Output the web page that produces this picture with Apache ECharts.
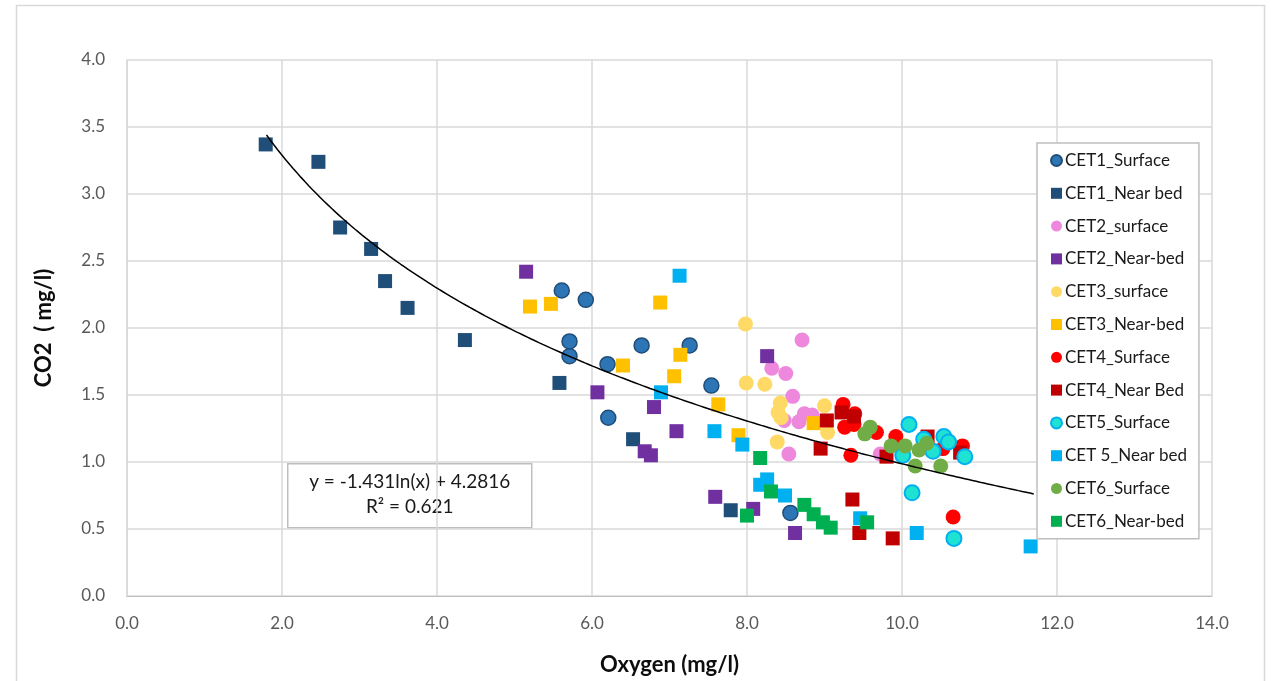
<!DOCTYPE html>
<html>
<head>
<meta charset="utf-8">
<script src="https://cdn.jsdelivr.net/npm/echarts@6/dist/echarts.min.js"></script>
<style>
  html, body { margin: 0; padding: 0; background: #fff; }
  #chart { width: 1271px; height: 681px; }
</style>
</head>
<body>
<div id="chart"></div>
<script>
// Oxygen (mg/l) vs CO2 (mg/l) per station and depth, as [O2, CO2] pairs
const cet1Surface = [[5.61,2.28],[5.92,2.21],[5.71,1.90],[5.71,1.79],[6.20,1.73],[6.64,1.87],[7.26,1.87],[7.54,1.57],[6.21,1.33],[8.56,0.62]];
const cet1NearBed = [[1.79,3.37],[2.47,3.24],[2.75,2.75],[3.15,2.59],[3.33,2.35],[3.62,2.15],[4.36,1.91],[5.58,1.59],[6.53,1.17],[7.79,0.64]];
const cet2Surface = [[8.71,1.91],[8.32,1.70],[8.50,1.66],[8.59,1.49],[8.48,1.31],[8.67,1.30],[8.74,1.36],[8.84,1.35],[8.54,1.06],[9.72,1.06]];
const cet2NearBed = [[5.15,2.42],[6.07,1.52],[6.80,1.41],[7.09,1.23],[6.68,1.08],[6.76,1.05],[7.59,0.74],[8.26,1.79],[8.08,0.65],[8.62,0.47]];
const cet3Surface = [[7.98,2.03],[7.99,1.59],[8.23,1.58],[8.43,1.44],[8.40,1.37],[8.44,1.33],[9.00,1.42],[9.04,1.22],[8.39,1.15]];
const cet3NearBed = [[5.20,2.16],[5.47,2.18],[6.88,2.19],[6.40,1.72],[7.14,1.80],[7.06,1.64],[7.63,1.43],[7.89,1.20],[8.86,1.29]];
const cet4Surface = [[9.24,1.43],[9.39,1.36],[9.26,1.26],[9.38,1.28],[9.67,1.22],[9.92,1.19],[9.34,1.05],[10.53,1.10],[10.78,1.12],[10.66,0.59]];
const cet4NearBed = [[9.03,1.31],[9.22,1.37],[9.38,1.34],[8.95,1.10],[9.80,1.04],[10.33,1.19],[10.75,1.07],[9.36,0.72],[9.45,0.47],[9.88,0.43]];
const cet5Surface = [[10.09,1.28],[10.54,1.19],[10.60,1.15],[10.28,1.17],[10.40,1.08],[10.01,1.05],[10.81,1.04],[10.13,0.77],[10.67,0.43]];
const cet5NearBed = [[7.13,2.39],[6.89,1.52],[7.58,1.23],[7.94,1.13],[8.17,0.83],[8.26,0.87],[8.49,0.75],[9.46,0.58],[10.19,0.47],[11.66,0.37]];
const cet6Surface = [[9.59,1.26],[9.52,1.21],[9.86,1.12],[10.04,1.12],[10.17,0.97],[10.22,1.09],[10.32,1.14],[10.50,0.97]];
const cet6NearBed = [[8.17,1.03],[8.31,0.78],[8.00,0.60],[8.74,0.68],[8.86,0.61],[8.98,0.55],[9.08,0.51],[9.55,0.55]];

// Logarithmic fit over the pooled data: CO2 = a ln(O2) + b
const trendA = -1.431;
const trendB = 4.2816;
const trendR2 = 0.621;
const trendDomain = [1.8, 11.7];

const FONT = 'Lato, "Open Sans", sans-serif';

const seriesDefs = [
  { name: 'CET1_Surface',  data: cet1Surface, symbol: 'circle', color: '#2E75B6', border: '#1F4E79', bw: 1.5 },
  { name: 'CET1_Near bed', data: cet1NearBed, symbol: 'rect',   color: '#1F4E79' },
  { name: 'CET2_surface',  data: cet2Surface, symbol: 'circle', color: '#EE88DD' },
  { name: 'CET2_Near-bed', data: cet2NearBed, symbol: 'rect',   color: '#7030A0' },
  { name: 'CET3_surface',  data: cet3Surface, symbol: 'circle', color: '#FFD966' },
  { name: 'CET3_Near-bed', data: cet3NearBed, symbol: 'rect',   color: '#FFC000' },
  { name: 'CET4_Surface',  data: cet4Surface, symbol: 'circle', color: '#FF0000' },
  { name: 'CET4_Near Bed', data: cet4NearBed, symbol: 'rect',   color: '#C00000' },
  { name: 'CET5_Surface',  data: cet5Surface, symbol: 'circle', color: '#1FE2D2', border: '#00B0F0', bw: 2 },
  { name: 'CET 5_Near bed',data: cet5NearBed, symbol: 'rect',   color: '#00B0F0' },
  { name: 'CET6_Surface',  data: cet6Surface, symbol: 'circle', color: '#70AD47' },
  { name: 'CET6_Near-bed', data: cet6NearBed, symbol: 'rect',   color: '#00B050' }
];

const trendPoints = [];
for (let i = 0; i <= 200; i++) {
  const x = trendDomain[0] + (trendDomain[1] - trendDomain[0]) * i / 200;
  trendPoints.push([x, trendA * Math.log(x) + trendB]);
}

const scatterSeries = seriesDefs.map(d => ({
  name: d.name,
  type: 'scatter',
  data: d.data,
  symbol: d.symbol,
  symbolSize: d.symbol === 'circle' ? 15 : 14,
  itemStyle: {
    color: d.color,
    opacity: 1,
    borderColor: d.border || d.color,
    borderWidth: d.bw || 0
  },
  emphasis: { disabled: true }
}));

const chart = echarts.init(document.getElementById('chart'), null, { renderer: 'canvas' });

chart.setOption({
  animation: false,
  backgroundColor: '#ffffff',
  grid: { left: 127, right: 59, top: 60, bottom: 76 },
  xAxis: {
    type: 'value',
    min: 0, max: 14, interval: 2,
    name: 'Oxygen (mg/l)',
    nameLocation: 'middle',
    nameGap: 58,
    nameTextStyle: { fontFamily: FONT, fontSize: 22, fontWeight: 'bold', color: '#0d0d0d' },
    axisLine: { show: true, lineStyle: { color: '#BFBFBF', width: 1 } },
    axisTick: { show: false },
    axisLabel: {
      fontFamily: FONT, fontSize: 17, color: '#595959', margin: 19,
      formatter: v => v.toFixed(1)
    },
    splitLine: { show: true, lineStyle: { color: '#D9D9D9', width: 1.5 } }
  },
  yAxis: {
    type: 'value',
    min: 0, max: 4, interval: 0.5,
    name: 'CO2  ( mg/l)',
    nameLocation: 'middle',
    nameGap: 72,
    nameRotate: 90,
    nameTextStyle: { fontFamily: FONT, fontSize: 22, fontWeight: 'bold', color: '#0d0d0d' },
    axisLine: { show: true, lineStyle: { color: '#D9D9D9', width: 1.5 } },
    axisTick: { show: false },
    axisLabel: {
      fontFamily: FONT, fontSize: 17, color: '#595959', margin: 22,
      formatter: v => v.toFixed(1)
    },
    splitLine: { show: true, lineStyle: { color: '#D9D9D9', width: 1.5 } }
  },
  legend: {
    orient: 'vertical',
    left: 1037,
    top: 143,
    padding: [9, 12, 9, 13],
    itemGap: 15.8,
    itemWidth: 11,
    itemHeight: 11,
    backgroundColor: '#ffffff',
    borderColor: '#BFBFBF',
    borderWidth: 1.5,
    textStyle: { fontFamily: FONT, fontSize: 17, color: '#1a1a1a', lineHeight: 17, padding: [0, 0, 0, -2] },
    data: seriesDefs.map(d => ({ name: d.name, icon: d.symbol === 'circle' ? 'circle' : 'rect' })),
    selectedMode: false,
    z: 10
  },
  graphic: [
    {
      type: 'rect',
      left: 14, top: 3,
      shape: { width: 1248, height: 690 },
      style: { fill: null, stroke: '#D9D9D9', lineWidth: 1.5 },
      silent: true, z: -1
    },
    {
      type: 'group',
      left: 287, top: 463,
      z: 20,
      children: [
        {
          type: 'rect',
          shape: { width: 244, height: 64 },
          style: { fill: '#ffffff', stroke: '#BFBFBF', lineWidth: 1.5 }
        },
        {
          type: 'text',
          x: 122, y: 18,
          style: {
            text: 'y = -' + Math.abs(trendA) + 'ln(x) + ' + trendB,
            fontFamily: FONT, fontSize: 19, fill: '#1a1a1a',
            textAlign: 'center', textVerticalAlign: 'middle'
          }
        },
        {
          type: 'text',
          x: 122, y: 43,
          style: {
            text: 'R\u00B2 = ' + trendR2,
            fontFamily: FONT, fontSize: 19, fill: '#1a1a1a',
            textAlign: 'center', textVerticalAlign: 'middle'
          }
        }
      ]
    }
  ],
  series: scatterSeries.concat([{
    name: 'Log. trend',
    type: 'line',
    data: trendPoints,
    symbol: 'none',
    lineStyle: { color: '#000000', width: 1.5 },
    z: 5,
    silent: true
  }])
});
</script>
</body>
</html>
